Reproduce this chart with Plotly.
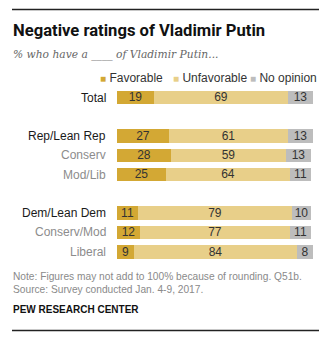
import plotly.graph_objects as go

# Survey rows (top to bottom) and their shares
groups = ["Total", "Rep/Lean Rep", "Conserv", "Mod/Lib", "Dem/Lean Dem", "Conserv/Mod", "Liberal"]
is_subgroup = [False, False, True, True, False, True, True]
row_slot = [0, 2, 3, 4, 6, 7, 8]  # blank slots separate the blocks
favorable = [19, 27, 28, 25, 11, 12, 9]
unfavorable = [69, 61, 59, 64, 79, 77, 84]
no_opinion = [13, 13, 13, 11, 10, 11, 8]

series_names = ["Favorable", "Unfavorable", "No opinion"]
series_values = [favorable, unfavorable, no_opinion]
series_colors = ["#d3a834", "#e8cf89", "#bdbdbd"]

W, H = 328, 342
FONT = "Liberation Sans"

def py(px):
    """pixel row (from top) -> paper y"""
    return 1 - px / H

def px_x(px):
    return px / W

fig = go.Figure()
for name, vals, col in zip(series_names, series_values, series_colors):
    fig.add_trace(go.Bar(
        name=name, y=row_slot, x=vals, orientation="h",
        marker=dict(color=col, line=dict(width=0)),
        width=0.7,
        text=[str(v) for v in vals], textposition="inside",
        insidetextanchor="middle", textangle=0,
        textfont=dict(family=FONT, size=12, color="#333333"),
        showlegend=False, hoverinfo="skip",
    ))

fig.update_layout(
    barmode="stack",
    width=W, height=H,
    margin=dict(l=0, r=0, t=0, b=0),
    paper_bgcolor="white", plot_bgcolor="white",
    uniformtext=dict(minsize=12, mode="show"),
    bargap=0,
    xaxis=dict(range=[0, 101], domain=[117 / W, 313 / W], visible=False, fixedrange=True),
    yaxis=dict(range=[8.5, -0.5], domain=[py(261.3), py(87.9)], visible=False, fixedrange=True),
)

# Row labels to the left of the bars
for g, sub, slot in zip(groups, is_subgroup, row_slot):
    fig.add_annotation(
        x=0, y=slot, xref="x", yref="y", xanchor="right", yanchor="middle",
        xshift=-9, text=g, showarrow=False,
        font=dict(family=FONT, size=12, color="#8c8c8c" if sub else "#1a1a1a"),
    )

# Legend row
legend_x = [98, 171, 248]
for name, col, lx in zip(series_names, series_colors, legend_x):
    fig.add_annotation(
        x=px_x(lx), y=py(78), xref="paper", yref="paper", xanchor="left", yanchor="middle",
        text=f"<span style='color:{col};font-size:10px'>■</span> {name}", showarrow=False,
        font=dict(family=FONT, size=12, color="#333333"),
    )

# Title, subtitle, notes
fig.add_annotation(x=px_x(11), y=py(30), xref="paper", yref="paper", xanchor="left", yanchor="middle",
                   text="<b>Negative ratings of Vladimir Putin</b>", showarrow=False,
                   font=dict(family="Roboto", size=16.6, color="#111111"))
fig.add_annotation(x=px_x(11), y=py(54), xref="paper", yref="paper", xanchor="left", yanchor="middle",
                   text="<i>% who have a ____ of Vladimir Putin...</i>", showarrow=False,
                   font=dict(family="DejaVu Serif", size=10.7, color="#666666"))
fig.add_annotation(x=px_x(11), y=py(283), xref="paper", yref="paper", xanchor="left", yanchor="middle",
                   align="left",
                   text="Note: Figures may not add to 100% because of rounding. Q51b.<br>"
                        "Source: Survey conducted Jan. 4-9, 2017.",
                   showarrow=False,
                   font=dict(family=FONT, size=10.2, color="#8a8a8a"))
fig.add_annotation(x=px_x(11), y=py(309), xref="paper", yref="paper", xanchor="left", yanchor="middle",
                   text="<b>PEW RESEARCH CENTER</b>", showarrow=False,
                   font=dict(family=FONT, size=10, color="#111111"))

# Top and bottom rules
for yy in (9.5, 330.5):
    fig.add_shape(type="line", xref="paper", yref="paper",
                  x0=px_x(12), x1=px_x(319), y0=py(yy), y1=py(yy),
                  line=dict(color="#222222", width=1.5))

fig.write_html("out.html")
